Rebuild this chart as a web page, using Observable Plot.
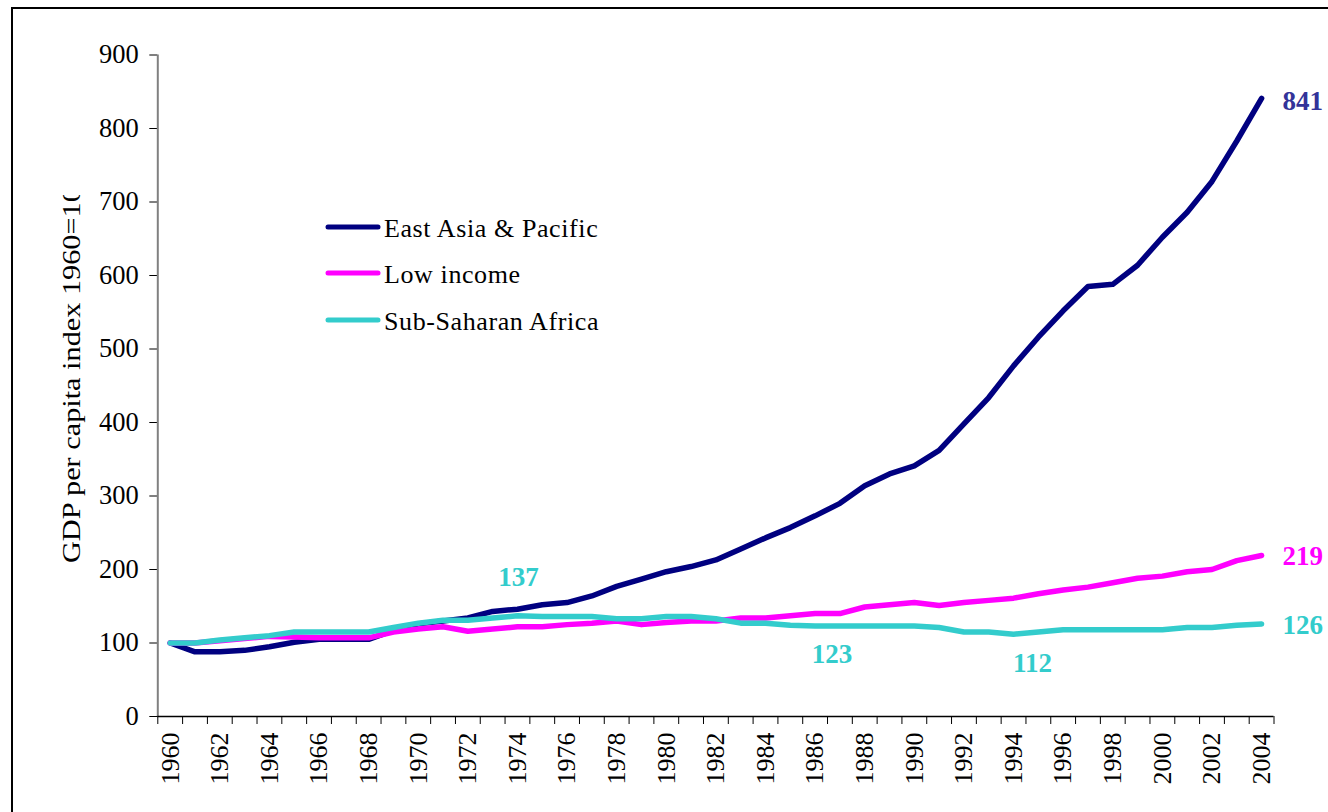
<!DOCTYPE html>
<html><head><meta charset="utf-8">
<script src="https://cdn.jsdelivr.net/npm/d3@7"></script>
<script src="https://cdn.jsdelivr.net/npm/@observablehq/plot@0.6"></script>
<style>
body{margin:0;background:#fff;}
#chart{position:relative;width:1328px;height:812px;overflow:hidden;background:#fff;font-family:"Liberation Serif","Times New Roman",serif;}
#chart svg{position:absolute;left:0;top:0;}
#chart svg text{font-family:"Liberation Serif","Times New Roman",serif;}
#frame{position:absolute;left:11px;top:7px;width:1500px;height:1000px;border:2px solid #000;pointer-events:none;}
</style></head><body><div id="chart"><div id="frame"></div></div>
<script>
// ---- data ----
const years = d3.range(1960, 2005);
const eastAsia = [100,88,88,90,95,101,105,105,105,117,126,130,134,143,146,152,155,164,177,187,197,204,213,228,243,257,273,290,314,330,341,362,398,434,477,516,552,585,588,614,652,686,728,783,841];
const lowIncome = [100,100,103,106,109,108,107,107,107,115,119,122,116,119,122,122,125,127,130,125,128,130,130,134,134,137,140,140,149,152,155,151,155,158,161,167,172,176,182,188,191,197,200,212,219];
const subSaharan = [100,100,104,107,110,115,115,115,115,121,127,131,131,134,137,136,136,136,133,133,136,136,133,127,127,124,123,123,123,123,123,121,115,115,112,115,118,118,118,118,118,121,121,124,126];
const seriesNames = ["East Asia & Pacific", "Low income", "Sub-Saharan Africa"];
const seriesColors = ["#000080", "#FF00FF", "#33CCCC"];
const yTicks = d3.range(0, 1000, 100);
const xTickLabels = d3.range(1960, 2005, 2);
const yTitle = "GDP per capita index 1960=100";
const annotations = [
  {series: "Sub-Saharan Africa", year: 1974, value: 137},
  {series: "Sub-Saharan Africa", year: 1987, value: 123},
  {series: "Sub-Saharan Africa", year: 1994, value: 112},
  {series: "East Asia & Pacific", year: 2004, value: 841},
  {series: "Low income", year: 2004, value: 219},
  {series: "Sub-Saharan Africa", year: 2004, value: 126}
];

// ---- styles (not data) ----
const FONT = "Liberation Serif, Times New Roman, serif";
const labelStyle = [
  {dx: 1, dy: -38, anchor: "middle", fill: "#33CCCC"},
  {dx: -8, dy: 28, anchor: "middle", fill: "#33CCCC"},
  {dx: 19, dy: 29, anchor: "middle", fill: "#33CCCC"},
  {dx: 21, dy: 3, anchor: "start", fill: "#333399"},
  {dx: 21, dy: 1, anchor: "start", fill: "#FF00FF"},
  {dx: 21, dy: 1, anchor: "start", fill: "#33CCCC"}
];

const seriesValues = [eastAsia, lowIncome, subSaharan];
const rows = [];
seriesNames.forEach((s, i) => years.forEach((yr, j) => rows.push({series: s, year: yr, value: seriesValues[i][j]})));

const plot = Plot.plot({
  width: 1328, height: 812,
  marginLeft: 157.3, marginRight: 54.5, marginTop: 54.5, marginBottom: 96,
  style: {fontFamily: FONT, fontSize: "26px", color: "#000", background: "transparent", overflow: "visible"},
  x: {domain: [1959.5, 2004.5]},
  y: {domain: [0, 900]},
  color: {domain: seriesNames, range: seriesColors},
  marks: [
    Plot.axisY({ticks: yTicks, tickSize: 8, tickPadding: 11, label: null, fontSize: 26.5, fontFamily: FONT, tickFormat: d => String(d)}),
    Plot.axisX({ticks: d3.range(1959.5, 2005, 1), tickSize: 8, tickFormat: () => "", label: null}),
    Plot.text(xTickLabels, {x: d => d, y: () => 0, text: d => String(d), rotate: -90, textAnchor: "end", lineAnchor: "middle", dy: 16, fontSize: 26, fontFamily: FONT, fill: "#000"}),
    Plot.ruleX([1959.5], {stroke: "#808080", strokeWidth: 2}),
    Plot.ruleY([0], {stroke: "#000", strokeWidth: 1.5}),
    Plot.line(rows, {x: "year", y: "value", z: "series", stroke: "series", strokeWidth: 5.5, strokeLinecap: "round", strokeLinejoin: "round"}),
    ...annotations.map((a, i) => Plot.text([a], {
      x: "year", y: "value", text: d => String(d.value),
      dx: labelStyle[i].dx, dy: labelStyle[i].dy, textAnchor: labelStyle[i].anchor,
      fill: labelStyle[i].fill, fontWeight: "bold", fontSize: 27, fontFamily: FONT
    }))
  ]
});
document.getElementById("chart").appendChild(plot);

const svg = d3.select(plot);
// y-axis title (clipped as in the reference)
const defs = svg.append("defs");
defs.append("clipPath").attr("id", "ytclip").append("rect").attr("x", 0).attr("y", 195).attr("width", 150).attr("height", 700);
svg.append("g").attr("clip-path", "url(#ytclip)")
  .append("text")
  .attr("transform", "translate(80,563) rotate(-90)")
  .attr("text-anchor", "start")
  .attr("font-family", FONT).attr("font-size", 25)
  .attr("textLength", 391).attr("lengthAdjust", "spacingAndGlyphs")
  .attr("fill", "#000")
  .text(yTitle);

// legend
const legendY = [227, 273, 320];
const lg = svg.append("g").attr("text-anchor", "start");
seriesNames.forEach((s, i) => {
  lg.append("line").attr("x1", 328).attr("x2", 378).attr("y1", legendY[i]).attr("y2", legendY[i])
    .attr("stroke", seriesColors[i]).attr("stroke-width", 5).attr("stroke-linecap", "round");
  lg.append("text").attr("x", 384).attr("y", legendY[i] + 9.5).attr("text-anchor", "start")
    .attr("font-family", FONT).attr("font-size", 26).attr("letter-spacing", 0.6).attr("fill", "#000").text(s);
});
</script></body></html>
